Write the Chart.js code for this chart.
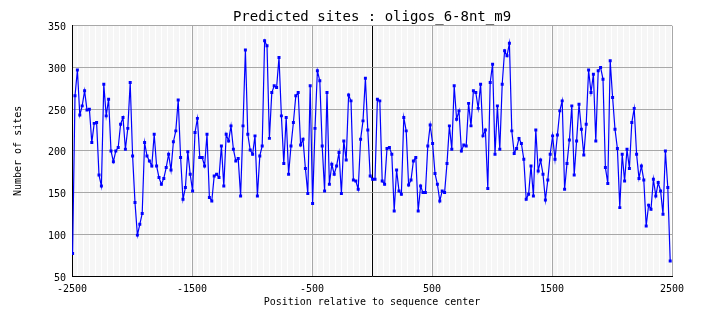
<!DOCTYPE html>
<html>
<head>
<meta charset="utf-8">
<script src="https://cdn.jsdelivr.net/npm/chart.js@4/dist/chart.umd.min.js"></script>
<style>
  html, body { margin: 0; padding: 0; background: #fff; }
</style>
</head>
<body>
<canvas id="sitesChart" width="704" height="328"></canvas>
<script>
const chartTitle = 'Predicted sites : oligos_6-8nt_m9';
const xTitle = 'Position relative to sequence center';
const yTitle = 'Number of sites';

// window centers, one every 20 bp
const firstPosition = -2495;
const positionStep = 20;

// number of sites per window, read left to right
const sites = [
    77, 266, 297, 243, 254, 272, 249, 250, 210, 233, 234, 171, 158, 280, 242, 262, 200, 187, 200, 204, 232,
    240, 202, 227, 282, 194, 138, 99, 112, 125, 210, 194, 188, 182, 220, 182, 168, 160, 167, 180, 196, 177,
    211, 224, 261, 192, 142, 156, 199, 172, 152, 222, 239, 192, 192, 182, 220, 144, 140, 170, 172, 168, 206,
    158, 220, 212, 230, 202, 188, 191, 146, 230, 321, 220, 201, 196, 218, 146, 194, 206, 332, 326, 215,
    270, 278, 276, 312, 242, 185, 240, 172, 206, 234, 266, 270, 207, 214, 179, 149, 278, 137, 227, 296, 284,
    206, 152, 270, 160, 184, 172, 182, 198, 149, 212, 189, 267, 260, 165, 164, 154, 214, 236, 287, 225, 170,
    166, 166, 262, 260, 164, 160, 203, 204, 196, 128, 177, 152, 148, 240, 224, 159, 165, 188, 192, 128, 158,
    150, 150, 206, 231, 209, 173, 160, 140, 152, 150, 185, 230, 202, 278, 238, 248, 200, 207, 206, 257, 230,
    272, 270, 251, 280, 218, 225, 155, 282, 304, 196, 254, 202, 280, 320, 314, 329, 224, 197, 203, 215, 209,
    190, 142, 148, 182, 146, 225, 176, 189, 172, 141, 165, 196, 218, 190, 219, 248, 260, 154, 185, 213,
    254, 171, 212, 256, 226, 195, 232, 297, 270, 292, 212, 296, 300, 286, 180, 161, 308, 264, 226, 203, 132,
    196, 164, 202, 179, 234, 251, 196, 167, 182, 165, 110, 135, 130, 166, 146, 162, 152, 124, 200, 156, 68
];

const xTickLabels = [-2500, -1500, -500, 500, 1500, 2500];
const yTickLabels = [50, 100, 150, 200, 250, 300, 350];

const mono = "'DejaVu Sans Mono', 'Liberation Mono', monospace";
const points = sites.map((count, i) => ({ x: firstPosition + i * positionStep, y: count }));

const xGridColor = (ctx) => {
    const v = ctx.tick ? ctx.tick.value : null;
    if (v === 0) return '#000000';
    if (xTickLabels.includes(v)) return '#a8a8a8';
    return '#f6f6f6';
};

new Chart(document.getElementById('sitesChart').getContext('2d'), {
    type: 'line',
    data: {
        datasets: [{
            data: points,
            borderColor: '#0000ff',
            borderWidth: 1.2,
            tension: 0,
            pointStyle: 'rect',
            pointRadius: 2.1,
            pointBorderWidth: 0,
            pointBackgroundColor: '#0000ff'
        }]
    },
    options: {
        responsive: false,
        animation: false,
        devicePixelRatio: 1,
        layout: { padding: { left: 0, right: 32, top: 0, bottom: 0 } },
        plugins: {
            legend: { display: false },
            tooltip: { enabled: false },
            title: {
                display: true,
                text: chartTitle,
                fullSize: false,
                color: '#000',
                font: { family: mono, size: 14, weight: 'normal' },
                padding: { top: 9, bottom: 0 }
            }
        },
        scales: {
            x: {
                type: 'linear',
                min: -2500,
                max: 2500,
                ticks: {
                    stepSize: 10,
                    autoSkip: false,
                    maxRotation: 0,
                    padding: 7,
                    color: '#000',
                    font: { family: mono, size: 10 },
                    callback: (v) => xTickLabels.includes(v) ? String(v) : ''
                },
                grid: { drawTicks: false, lineWidth: 1, color: xGridColor },
                border: { color: '#000', width: 1 },
                title: {
                    display: true,
                    text: xTitle,
                    color: '#000',
                    font: { family: mono, size: 10 },
                    padding: { top: 0, bottom: 20 }
                },
                afterFit: (scale) => { scale.height = 52; }
            },
            y: {
                min: 50,
                max: 350,
                afterBuildTicks: (scale) => { scale.ticks = yTickLabels.map(v => ({ value: v })); },
                ticks: {
                    padding: 6,
                    labelOffset: 2,
                    color: '#000',
                    font: { family: mono, size: 10 }
                },
                grid: { drawTicks: false, lineWidth: 1, color: '#a8a8a8' },
                border: { color: '#000', width: 1 },
                title: {
                    display: true,
                    text: yTitle,
                    color: '#000',
                    font: { family: mono, size: 10 },
                    padding: { top: 12, bottom: 0 }
                },
                afterFit: (scale) => { scale.width = 72; }
            }
        }
    }
});
</script>
</body>
</html>
